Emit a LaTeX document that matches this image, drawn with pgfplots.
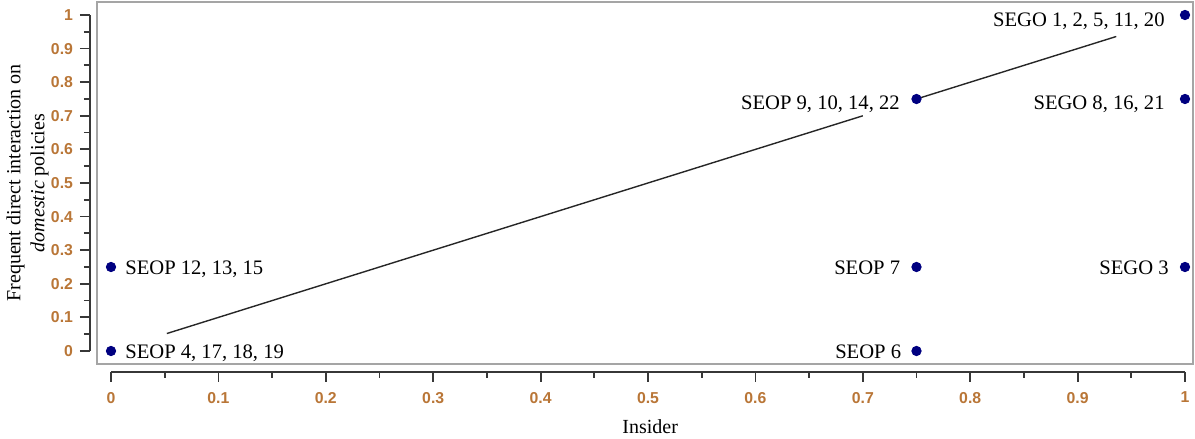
\documentclass[border=0pt]{standalone}
\usepackage{fontspec}
\setmainfont{Liberation Serif}
\newfontfamily\tickfont{Liberation Sans}
\usepackage{pgfplots}
\pgfplotsset{compat=1.18}
\definecolor{navy}{RGB}{0,0,128}
\definecolor{tickc}{RGB}{185,118,55}
\definecolor{framec}{RGB}{165,165,165}
\definecolor{axc}{RGB}{55,55,55}
\newcommand{\labfont}{\fontsize{10.3}{12}\selectfont}
\begin{document}
\begin{tikzpicture}
\useasboundingbox (0,0) rectangle (597.5pt,219.5pt);
% frame
\begin{axis}[at={(48.5pt,37.5pt)}, anchor=south west, scale only axis,
  width=548pt, height=181pt,
  xmin=-0.01304, xmax=1.00745, ymin=-0.03869, ymax=1.03869,
  axis line style={framec, line width=0.7pt}, xtick=\empty, ytick=\empty]
\end{axis}
% data axis
\begin{axis}[at={(55.5pt,44pt)}, anchor=south west, scale only axis,
  width=537pt, height=168pt,
  xmin=0, xmax=1, ymin=0, ymax=1,
  axis lines*=left, axis x line shift=10.5pt, axis y line shift=10.5pt,
  axis line style={axc, line width=0.9pt, -},
  tick align=outside, major tick length=5pt, minor tick length=3pt,
  minor tick num=1,
  every tick/.style={axc, line width=0.9pt},
  xtick={0,0.1,0.2,0.3,0.4,0.5,0.6,0.7,0.8,0.9,1},
  ytick={0,0.1,0.2,0.3,0.4,0.5,0.6,0.7,0.8,0.9,1},
  /pgf/number format/assume math mode=true,
  ticklabel style={font=\tickfont\bfseries\fontsize{7.9}{8}\selectfont, text=tickc},
  xticklabel style={yshift=-1.5pt},
  label style={font=\labfont},
  xlabel={Insider},
  ylabel={Frequent direct interaction on\\\textit{domestic} policies},
  every axis x label/.style={at={(axis description cs:0.502,-0.226)}, anchor=center},
  every axis y label/.style={at={(axis description cs:-0.0777,0.5)}, rotate=90, anchor=center, align=center},
  clip=false]
\addplot[black!85, line width=0.7pt] coordinates {(0.052,0.052) (0.70,0.70)};
\addplot[black!85, line width=0.7pt] coordinates {(0.75,0.75) (0.936,0.936)};
\addplot[only marks, mark=*, mark size=2.35pt, navy] coordinates {
  (0,0) (0,0.25) (0.75,0) (0.75,0.25) (0.75,0.75) (1,1) (1,0.75) (1,0.25)};
\node[anchor=base east, inner sep=0pt, font=\labfont, xshift=-10pt, yshift=-6pt] at (axis cs:1,1) {SEGO 1, 2, 5, 11, 20};
\node[anchor=base east, inner sep=0pt, font=\labfont, xshift=-10pt, yshift=-5.5pt] at (axis cs:1,0.75) {SEGO 8, 16, 21};
\node[anchor=base east, inner sep=0pt, font=\labfont, xshift=-8.2pt, yshift=-5.5pt] at (axis cs:0.75,0.75) {SEOP 9, 10, 14, 22};
\node[anchor=base east, inner sep=0pt, font=\labfont, xshift=-8pt, yshift=-4pt] at (axis cs:0.75,0.25) {SEOP 7};
\node[anchor=base east, inner sep=0pt, font=\labfont, xshift=-7.5pt, yshift=-4pt] at (axis cs:0.75,0) {SEOP 6};
\node[anchor=base east, inner sep=0pt, font=\labfont, xshift=-8pt, yshift=-4pt] at (axis cs:1,0.25) {SEGO 3};
\node[anchor=base west, inner sep=0pt, font=\labfont, xshift=7pt, yshift=-4pt] at (axis cs:0,0.25) {SEOP 12, 13, 15};
\node[anchor=base west, inner sep=0pt, font=\labfont, xshift=7pt, yshift=-4pt] at (axis cs:0,0) {SEOP 4, 17, 18, 19};
\end{axis}
\end{tikzpicture}
\end{document}
